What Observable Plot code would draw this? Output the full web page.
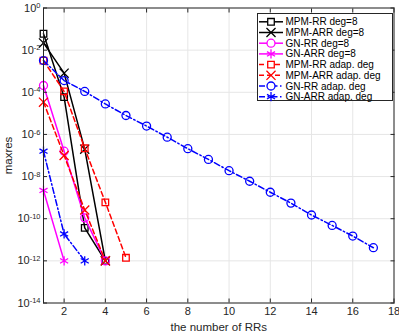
<!DOCTYPE html>
<html><head><meta charset="utf-8">
<script src="https://cdn.jsdelivr.net/npm/d3@7"></script>
<script src="https://cdn.jsdelivr.net/npm/@observablehq/plot@0.6"></script>
<style>
body{margin:0;background:#fff;font-family:"Liberation Sans",Arial,sans-serif}
#wrap{position:relative;width:399px;height:332px}
#legend{position:absolute;left:0;top:0}
</style>
</head><body><div id="wrap"></div>
<script>
// ---- data ----
const seriesNames = ["MPM-RR deg=8","MPM-ARR deg=8","GN-RR deg=8","GN-ARR deg=8",
  "MPM-RR adap. deg","MPM-ARR adap. deg","GN-RR adap. deg","GN-ARR adap. deg"];
const mpmRR8   = [6.0e-2, 5.9e-5, 3.7e-11, 1.0e-12];
const mpmARR8  = [2.2e-2, 8.1e-4, 2.0e-7, 1.0e-12];
const gnRR8    = [2.1e-4, 1.6e-7, 1.1e-10, 1.0e-12];
const gnARR8   = [2.2e-9, 1.0e-12];
const mpmRRad  = [3.2e-3, 1.1e-4, 2.2e-7, 6.0e-10, 1.4e-12];
const mpmARRad = [3.4e-5, 1.0e-7, 2.6e-10, 1.0e-12];
const gnRRad   = [3.2e-3, 3.6e-4, 1.1e-4, 2.8e-5, 7.9e-6, 2.5e-6, 7.4e-7, 2.1e-7, 6.5e-8,
                  1.9e-8, 6.0e-9, 1.8e-9, 5.5e-10, 1.5e-10, 4.8e-11, 1.5e-11, 4.2e-12];
const gnARRad  = [1.6e-7, 1.9e-11, 1.0e-12];
const seriesValues = [mpmRR8, mpmARR8, gnRR8, gnARR8, mpmRRad, mpmARRad, gnRRad, gnARRad];
const xTicks = [2,4,6,8,10,12,14,16,18];
const yTicks = [1,1e-2,1e-4,1e-6,1e-8,1e-10,1e-12,1e-14];

// ---- styles ----
const colors  = ["#000000","#000000","#ff00ff","#ff00ff","#ff0000","#ff0000","#0000ff","#0000ff"];
const symbols = ["square","times","circle","asterisk","square","times","circle","asterisk"];
const dashes  = [null,null,null,null,"5,3","5,3","6,2.5,1.5,2.5","6,2.5,1.5,2.5"];
const radius  = {square:3.7, times:4.2, circle:4, asterisk:4.4};

const series = seriesNames.map((name, i) => ({
  name, color: colors[i], symbol: symbols[i], dash: dashes[i],
  data: seriesValues[i].map((v, j) => ({x: j + 1, y: v}))
}));

const font = "Liberation Sans, Arial, sans-serif";
const marks = [
  Plot.gridX(xTicks, {stroke: "#e6e6e6", strokeOpacity: 1, strokeWidth: 1}),
  Plot.gridY(yTicks, {stroke: "#e6e6e6", strokeOpacity: 1, strokeWidth: 1}),
];
for (const s of series) {
  marks.push(Plot.line(s.data, {x: "x", y: "y", stroke: s.color, strokeWidth: 1.5,
    strokeDasharray: s.dash ?? undefined}));
  marks.push(Plot.dot(s.data, {x: "x", y: "y", symbol: () => s.symbol, r: radius[s.symbol],
    stroke: s.color, fill: "none", strokeWidth: 1.3}));
}
marks.push(
  Plot.frame({stroke: "#262626", strokeWidth: 1}),
  Plot.axisX(xTicks, {anchor: "bottom", tickSize: -4, tickPadding: 8.5, stroke: "#262626",
    fill: "#262626", fontSize: 11, label: "the number of RRs", labelAnchor: "center",
    labelOffset: 28, labelArrow: "none"}),
  Plot.axisX(xTicks, {anchor: "top", tickSize: -4, tickFormat: () => "", stroke: "#262626", label: null}),
  Plot.axisY(yTicks, {anchor: "left", tickSize: -4, tickPadding: 7, stroke: "#262626",
    fill: "#262626", fontSize: 11,
    tickFormat: d => "10^" + Math.round(Math.log10(d)),
    label: "maxres", labelAnchor: "center", labelOffset: 40, labelArrow: "none"}),
  Plot.axisY(yTicks, {anchor: "right", tickSize: -4, tickFormat: () => "", stroke: "#262626", label: null})
);

const chart = Plot.plot({
  width: 399, height: 332,
  marginLeft: 43, marginRight: 5.5, marginTop: 7.5, marginBottom: 29.5,
  style: {fontFamily: font, fontSize: "11px", color: "#262626", background: "#fff"},
  x: {type: "linear", domain: [1, 18]},
  y: {type: "log", domain: [1e-14, 1]},
  marks
});
document.getElementById("wrap").appendChild(chart);

// superscript exponents on y tick labels
d3.select(chart).selectAll("text").each(function() {
  const t = this.textContent;
  const m = /^10\^(-?\d+)$/.exec(t);
  if (m) {
    const el = d3.select(this);
    el.text("10");
    el.append("tspan").attr("dy", "-0.45em").attr("font-size", "7.5px").text(m[1]);
  }
});
// label font sizes
d3.select(chart).selectAll("text").filter(function(){return this.textContent === "the number of RRs" || this.textContent === "maxres";})
  .attr("font-size", "11.5px");

// ---- legend (overlay) ----
const lg = {x: 257, y: 13, w: 135, h: 87, row: 10.7, first: 21.8};
const svg = d3.select("#wrap").append("svg").attr("id", "legend")
  .attr("width", 399).attr("height", 332);
svg.append("rect").attr("x", lg.x + 0.5).attr("y", lg.y + 0.5).attr("width", lg.w).attr("height", lg.h)
  .attr("fill", "#fff").attr("stroke", "#262626").attr("stroke-width", 1);
const symMap = {square: d3.symbolSquare, times: d3.symbolTimes, circle: d3.symbolCircle, asterisk: d3.symbolAsterisk};
series.forEach((s, i) => {
  const yy = lg.first + i * lg.row;
  svg.append("line").attr("x1", 259).attr("x2", 283).attr("y1", yy).attr("y2", yy)
    .attr("stroke", s.color).attr("stroke-width", 1.5).attr("stroke-dasharray", s.dash);
  const r = radius[s.symbol];
  svg.append("path").attr("d", d3.symbol(symMap[s.symbol], r * r * Math.PI)())
    .attr("transform", `translate(271,${yy})`).attr("fill", s.symbol === "circle" || s.symbol === "square" ? "#fff" : "none")
    .attr("stroke", s.color).attr("stroke-width", 1.3);
  svg.append("text").attr("x", 285.5).attr("y", yy).attr("dy", "0.35em")
    .attr("font-family", font).attr("font-size", "10px").attr("fill", "#000").text(s.name);
});
</script>
</body></html>
